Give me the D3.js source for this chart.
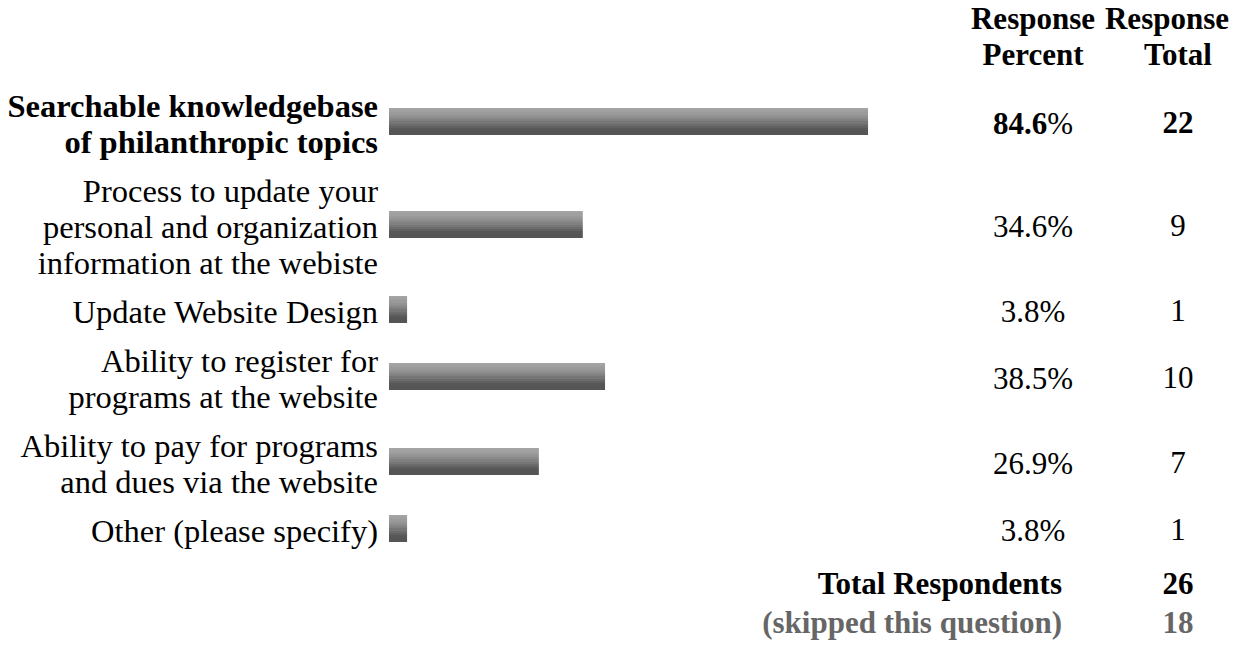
<!DOCTYPE html>
<html>
<head>
<meta charset="utf-8">
<script src="https://cdn.jsdelivr.net/npm/d3@7"></script>
<style>
html,body{margin:0;padding:0;background:#fff;}
svg{display:block;}
text{font-family:"Liberation Serif","Times New Roman",serif;}
</style>
</head>
<body>
<svg id="chart" width="1254" height="646"></svg>
<script>
// ---- data ----
const categories = [
  ["Searchable knowledgebase", "of philanthropic topics"],
  ["Process to update your", "personal and organization", "information at the webiste"],
  ["Update Website Design"],
  ["Ability to register for", "programs at the website"],
  ["Ability to pay for programs", "and dues via the website"],
  ["Other (please specify)"]
];
const responsePercent = [84.6, 34.6, 3.8, 38.5, 26.9, 3.8];
const responseTotal = [22, 9, 1, 10, 7, 1];
const highlighted = [true, false, false, false, false, false];
const headerPercent = ["Response", "Percent"];
const headerTotal = ["Response", "Total"];
const totalRespondents = 26;
const skippedQuestion = 18;

// ---- layout ----
const FS = 31, LFS = 32.5, LH = 36, PAD = 13;
const labelRight = 378, barLeft = 389, barH = 27;
const pctX = 1033, totX = 1178;

const svg = d3.select("#chart");

// gradient (stepped) for bars
const defs = svg.append("defs");
const grad = defs.append("linearGradient").attr("id","barGrad")
  .attr("x1",0).attr("y1",0).attr("x2",0).attr("y2",1);
const bands = ["#a4a4a4","#a0a0a0","#9a9a9a","#939393","#8b8b8b","#818181","#767676","#6b6b6b","#616161","#575757","#555555","#555555"];
bands.forEach((c,i)=>{
  grad.append("stop").attr("offset", i/bands.length).attr("stop-color", c);
  grad.append("stop").attr("offset", (i+1)/bands.length).attr("stop-color", c);
});

// row positions from line counts
const rowH = categories.map(c => c.length*LH + PAD);
const firstTop = 79;
const rowTop = [];
rowH.reduce((acc,h,i)=>{rowTop[i]=acc; return acc+h;}, firstTop);
const rowCenter = rowTop.map((t,i)=>t+rowH[i]/2);

const x = d3.scaleLinear().domain([0,100]).range([barLeft-3.6, barLeft-3.6+570.5]);

// header
const headerCenter = firstTop - (2*LH+PAD)/2;
function lines(g, arr, cx, cy, anchor, dy){
  const n = arr.length;
  arr.forEach((s,i)=>{
    g.append("text").attr("x",cx).attr("y", cy + (i-(n-1)/2)*LH + (dy||0))
      .attr("dominant-baseline","central").attr("text-anchor",anchor).text(s);
  });
}
const hg = svg.append("g").attr("font-size",FS).attr("font-weight","bold").attr("fill","#000");
lines(hg, headerPercent, pctX, headerCenter, "middle");
const hg2 = svg.append("g").attr("font-size",FS).attr("font-weight","bold").attr("fill","#000");
hg2.append("text").attr("x",1167).attr("y",headerCenter-LH/2).attr("dominant-baseline","central").attr("text-anchor","middle").text(headerTotal[0]);
hg2.append("text").attr("x",totX).attr("y",headerCenter+LH/2).attr("dominant-baseline","central").attr("text-anchor","middle").text(headerTotal[1]);

// rows
categories.forEach((cat,i)=>{
  const g = svg.append("g").attr("font-size",LFS).attr("fill","#000")
    .attr("font-weight", highlighted[i] ? "bold" : "normal");
  lines(g, cat, labelRight, rowCenter[i], "end", 2);
});

svg.append("g").selectAll("rect").data(responsePercent).join("rect")
  .attr("x", barLeft)
  .attr("y", (d,i)=>rowCenter[i]-barH/2)
  .attr("width", d => x(d)-barLeft)
  .attr("height", barH)
  .attr("fill","url(#barGrad)");

// percent column
responsePercent.forEach((v,i)=>{
  const t = svg.append("text").attr("x",pctX).attr("y",rowCenter[i]+1)
    .attr("dominant-baseline","central").attr("text-anchor","middle")
    .attr("font-size",FS).attr("fill","#000");
  t.append("tspan").attr("font-weight", highlighted[i]?"bold":"normal").text(d3.format(".1f")(v));
  t.append("tspan").text("%");
});
svg.append("g").selectAll("text").data(responseTotal).join("text")
  .attr("x",totX).attr("y",(d,i)=>rowCenter[i]+1)
  .attr("dominant-baseline","central").attr("text-anchor","middle")
  .attr("font-size",FS).attr("font-weight",(d,i)=>highlighted[i]?"bold":"normal")
  .text(d=>d);

// footer
const lastBottom = rowTop[rowTop.length-1] + rowH[rowH.length-1];
const f1 = lastBottom + 30, f2 = f1 + 39;
const fg = svg.append("g").attr("font-size",FS).attr("font-weight","bold");
fg.append("text").attr("x",1062).attr("y",f1).attr("dominant-baseline","central").attr("text-anchor","end").attr("fill","#000").text("Total Respondents");
fg.append("text").attr("x",totX).attr("y",f1).attr("dominant-baseline","central").attr("text-anchor","middle").attr("fill","#000").text(totalRespondents);
fg.append("text").attr("x",1062).attr("y",f2).attr("dominant-baseline","central").attr("text-anchor","end").attr("fill","#666666").text("(skipped this question)");
fg.append("text").attr("x",totX).attr("y",f2).attr("dominant-baseline","central").attr("text-anchor","middle").attr("fill","#666666").text(skippedQuestion);
</script>
</body>
</html>
